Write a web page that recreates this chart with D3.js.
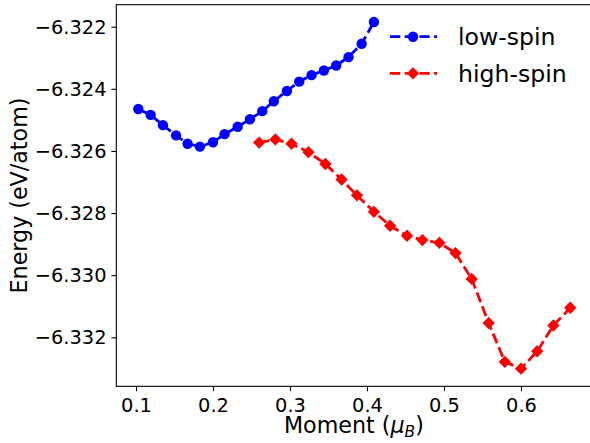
<!DOCTYPE html>
<html>
<head>
<meta charset="utf-8">
<script src="https://cdn.jsdelivr.net/npm/d3@7"></script>
<style>
  body { margin: 0; background: #fff; }
  svg { display: block; font-family: "DejaVu Sans", sans-serif; }
</style>
</head>
<body>
<div id="chart"></div>
<script>
// Data
var lowMoment = [0.103, 0.119, 0.135, 0.152, 0.167, 0.183, 0.200, 0.215, 0.232, 0.248,
                 0.264, 0.279, 0.296, 0.312, 0.328, 0.344, 0.360, 0.376, 0.393, 0.409];
var lowEnergy = [-6.32465, -6.32484, -6.32517, -6.32550, -6.32577, -6.32586, -6.32572, -6.32546, -6.32522, -6.32498,
                 -6.32472, -6.32440, -6.32407, -6.32377, -6.32356, -6.32341, -6.32325, -6.32298, -6.32255, -6.32185];
var highMoment = [0.260, 0.281, 0.302, 0.324, 0.346, 0.367, 0.387, 0.409, 0.430, 0.452,
                  0.472, 0.494, 0.515, 0.536, 0.558, 0.579, 0.600, 0.621, 0.642, 0.664];
var highEnergy = [-6.32573, -6.32563, -6.32577, -6.32604, -6.32642, -6.32692, -6.32743, -6.32796, -6.32841, -6.32873,
                  -6.32887, -6.32896, -6.32929, -6.33012, -6.33154, -6.33279, -6.33301, -6.33245, -6.33162, -6.33105];
var xTicks = [0.1, 0.2, 0.3, 0.4, 0.5, 0.6];
var yTicks = [-6.322, -6.324, -6.326, -6.328, -6.330, -6.332];
var seriesNames = ["low-spin", "high-spin"];

// Layout
var W = 590, H = 443;
var m = {left: 116.3, right: 591.5, top: 4.7, bottom: 386.3};

var x = d3.scaleLinear().domain([0.07442, 0.6896]).range([m.left, m.left + (0.6896 - 0.07442) * 770]);
var y = d3.scaleLinear().domain([-6.333578, -6.321292]).range([m.bottom, m.top]);

var svg = d3.select("#chart").append("svg")
    .attr("width", W)
    .attr("height", H);

// Axes
var xAxis = svg.append("g")
    .attr("transform", "translate(0," + m.bottom + ")")
    .call(d3.axisBottom(x).tickValues(xTicks).tickFormat(d3.format(".1f")).tickSize(4.9).tickPadding(7));
var yAxis = svg.append("g")
    .attr("transform", "translate(" + m.left + ",0)")
    .call(d3.axisLeft(y).tickValues(yTicks).tickFormat(d3.format(".3f")).tickSize(4.9).tickPadding(4.9));

[xAxis, yAxis].forEach(function(a) {
  a.select(".domain").remove();
  a.selectAll("line").attr("stroke", "#000").attr("stroke-width", 1.1);
  a.selectAll("text").attr("fill", "#000").style("font-size", "19.4px").style("font-family", "DejaVu Sans");
});
yAxis.selectAll("text").attr("dy", "0.34em");

// Frame
svg.append("rect")
    .attr("x", m.left).attr("y", m.top)
    .attr("width", m.right - m.left).attr("height", m.bottom - m.top)
    .attr("fill", "none").attr("stroke", "#000").attr("stroke-width", 1.1);

// Series
var line = d3.line()
    .x(function(d) { return x(d[0]); })
    .y(function(d) { return y(d[1]); });

var lowData = d3.zip(lowMoment, lowEnergy);
var highData = d3.zip(highMoment, highEnergy);
var dash = "10.3,4.4";

svg.append("path")
    .datum(lowData)
    .attr("d", line)
    .attr("fill", "none").attr("stroke", "#0000ff")
    .attr("stroke-width", 2.8).attr("stroke-dasharray", dash);
svg.selectAll(".low")
    .data(lowData)
  .enter().append("circle")
    .attr("class", "low")
    .attr("cx", function(d) { return x(d[0]); })
    .attr("cy", function(d) { return y(d[1]); })
    .attr("r", 5.2)
    .attr("fill", "#0000ff");

var diamond = d3.symbol().type(d3.symbolSquare).size(76);
svg.append("path")
    .datum(highData)
    .attr("d", line)
    .attr("fill", "none").attr("stroke", "#ff0000")
    .attr("stroke-width", 2.8).attr("stroke-dasharray", dash);
svg.selectAll(".high")
    .data(highData)
  .enter().append("path")
    .attr("class", "high")
    .attr("d", diamond)
    .attr("transform", function(d) { return "translate(" + x(d[0]) + "," + y(d[1]) + ") rotate(45)"; })
    .attr("fill", "#ff0000");

// Axis labels
svg.append("text")
    .attr("x", (m.left + m.right) / 2)
    .attr("y", 433)
    .style("text-anchor", "middle")
    .style("font-size", "22.2px")
    .html("Moment (<tspan font-style='italic'>μ</tspan><tspan font-style='italic' font-size='15.5px' dy='4'>B</tspan><tspan dy='-4'>)</tspan>");

svg.append("text")
    .attr("transform", "translate(27," + ((m.top + m.bottom) / 2) + ") rotate(-90)")
    .style("text-anchor", "middle")
    .style("font-size", "22.2px")
    .text("Energy (eV/atom)");

// Legend
var legend = svg.append("g");
var legendY = [36.7, 73.3];
var colors = ["#0000ff", "#ff0000"];
seriesNames.forEach(function(name, i) {
  legend.append("line")
      .attr("x1", 390).attr("x2", 437)
      .attr("y1", legendY[i]).attr("y2", legendY[i])
      .attr("stroke", colors[i]).attr("stroke-width", 2.8)
      .attr("stroke-dasharray", dash);
  if (i === 0) {
    legend.append("circle").attr("cx", 413).attr("cy", legendY[i]).attr("r", 5.2).attr("fill", colors[i]);
  } else {
    legend.append("path").attr("d", diamond)
        .attr("transform", "translate(413," + legendY[i] + ") rotate(45)")
        .attr("fill", colors[i]);
  }
  legend.append("text")
      .attr("x", 458).attr("y", legendY[i])
      .attr("dy", "0.36em")
      .style("font-size", "23.6px")
      .text(name);
});
</script>
</body>
</html>
